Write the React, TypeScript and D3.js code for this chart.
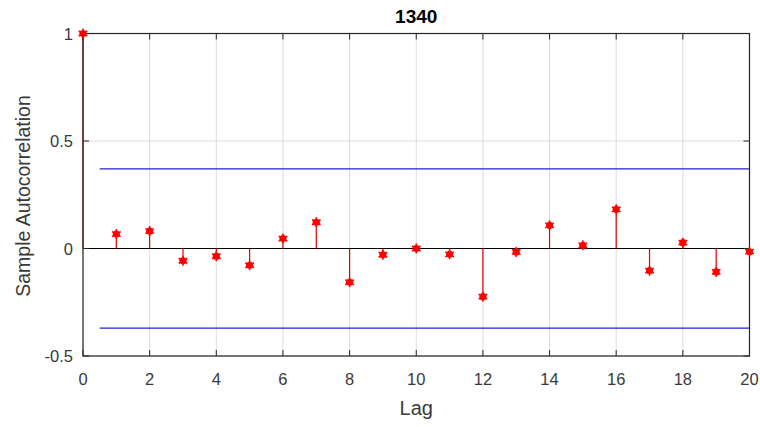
import { useEffect, useRef } from 'react'
import * as d3 from 'd3'

const lags = d3.range(0, 21)
const acf = [
  1, 0.067, 0.081, -0.057, -0.036, -0.078, 0.046, 0.122, -0.157, -0.029, 0.0,
  -0.027, -0.224, -0.016, 0.108, 0.015, 0.182, -0.103, 0.027, -0.109, -0.015,
]
const bound = 0.37
const xTicks = [0, 2, 4, 6, 8, 10, 12, 14, 16, 18, 20]
const yTicks = [-0.5, 0, 0.5, 1]

const width = 760
const height = 427

export default function App() {
  const svgRef = useRef<SVGSVGElement>(null)

  useEffect(() => {
    if (!svgRef.current) return
    const svg = d3.select(svgRef.current)
    svg.selectAll('*').remove()

    const margin = { top: 33.5, right: 10.5, bottom: 71, left: 83 }
    const innerW = width - margin.left - margin.right
    const innerH = height - margin.top - margin.bottom
    const font = 'Liberation Sans, Arial, sans-serif'
    const textColor = '#3a3a3a'

    const x = d3.scaleLinear().domain([0, 20]).range([0, innerW])
    const y = d3.scaleLinear().domain([-0.5, 1]).range([innerH, 0])

    svg.append('rect').attr('width', width).attr('height', height).attr('fill', '#fff')

    const g = svg.append('g').attr('transform', `translate(${margin.left},${margin.top})`)

    // grid
    g.selectAll('.gx')
      .data(xTicks)
      .enter()
      .append('line')
      .attr('x1', (d) => x(d))
      .attr('x2', (d) => x(d))
      .attr('y1', 0)
      .attr('y2', innerH)
      .attr('stroke', '#dcdcdc')
    g.selectAll('.gy')
      .data(yTicks)
      .enter()
      .append('line')
      .attr('x1', 0)
      .attr('x2', innerW)
      .attr('y1', (d) => y(d))
      .attr('y2', (d) => y(d))
      .attr('stroke', '#dcdcdc')

    // confidence bounds
    ;[bound, -bound].forEach((b) => {
      g.append('line')
        .attr('x1', x(0.5))
        .attr('x2', x(20))
        .attr('y1', y(b))
        .attr('y2', y(b))
        .attr('stroke', '#2020d0')
        .attr('stroke-width', 1.2)
    })

    // baseline
    g.append('line')
      .attr('x1', 0)
      .attr('x2', innerW)
      .attr('y1', y(0))
      .attr('y2', y(0))
      .attr('stroke', '#000')
      .attr('stroke-width', 1)

    // stems
    g.selectAll('.stem')
      .data(lags)
      .enter()
      .append('line')
      .attr('x1', (d) => x(d))
      .attr('x2', (d) => x(d))
      .attr('y1', y(0))
      .attr('y2', (d) => y(acf[d]))
      .attr('stroke', '#e00000')
      .attr('stroke-width', 1.2)

    // box
    g.append('rect')
      .attr('width', innerW)
      .attr('height', innerH)
      .attr('fill', 'none')
      .attr('stroke', '#262626')
      .attr('stroke-width', 1.2)

    // ticks inward
    xTicks.forEach((t) => {
      g.append('line').attr('x1', x(t)).attr('x2', x(t)).attr('y1', innerH).attr('y2', innerH - 6).attr('stroke', '#262626')
      g.append('line').attr('x1', x(t)).attr('x2', x(t)).attr('y1', 0).attr('y2', 6).attr('stroke', '#262626')
    })
    yTicks.forEach((t) => {
      g.append('line').attr('x1', 0).attr('x2', 6).attr('y1', y(t)).attr('y2', y(t)).attr('stroke', '#262626')
      g.append('line').attr('x1', innerW).attr('x2', innerW - 6).attr('y1', y(t)).attr('y2', y(t)).attr('stroke', '#262626')
    })

    // markers
    const star = d3.symbol().type(d3.symbolAsterisk).size(70)
    const pts = g
      .selectAll('.pt')
      .data(lags)
      .enter()
      .append('g')
      .attr('transform', (d) => `translate(${x(d)},${y(acf[d])})`)
    pts.append('circle').attr('r', 3.6).attr('fill', '#ff0000')
    pts.append('path').attr('d', star()).attr('stroke', '#ff0000').attr('stroke-width', 1.5).attr('fill', 'none')

    // tick labels
    g.selectAll('.xl')
      .data(xTicks)
      .enter()
      .append('text')
      .attr('x', (d) => x(d))
      .attr('y', innerH + 29)
      .attr('text-anchor', 'middle')
      .attr('font-family', font)
      .attr('font-size', 16.5)
      .attr('fill', textColor)
      .text((d) => d)
    g.selectAll('.yl')
      .data(yTicks)
      .enter()
      .append('text')
      .attr('x', -10)
      .attr('y', (d) => y(d) + 6)
      .attr('text-anchor', 'end')
      .attr('font-family', font)
      .attr('font-size', 16.5)
      .attr('fill', textColor)
      .text((d) => d)

    // labels
    svg.append('text')
      .attr('x', margin.left + innerW / 2)
      .attr('y', 23)
      .attr('text-anchor', 'middle')
      .attr('font-family', font)
      .attr('font-size', 19)
      .attr('font-weight', 'bold')
      .attr('fill', '#000')
      .text('1340')
    svg.append('text')
      .attr('x', margin.left + innerW / 2)
      .attr('y', 415)
      .attr('text-anchor', 'middle')
      .attr('font-family', font)
      .attr('font-size', 20)
      .attr('fill', textColor)
      .text('Lag')
    svg.append('text')
      .attr('transform', `translate(30,196) rotate(-90)`)
      .attr('text-anchor', 'middle')
      .attr('font-family', font)
      .attr('font-size', 19.5)
      .attr('fill', textColor)
      .text('Sample Autocorrelation')
  }, [])

  return (
    <svg
      ref={svgRef}
      width={width}
      height={height}
      style={{ position: 'absolute', left: 0, top: 0 }}
    />
  )
}
